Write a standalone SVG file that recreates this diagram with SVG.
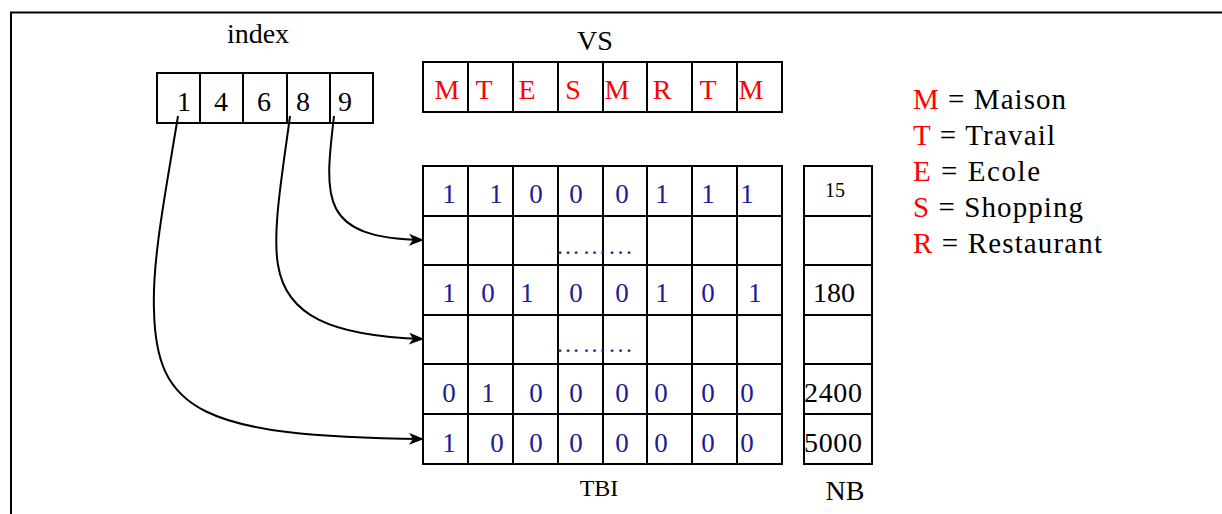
<svg xmlns="http://www.w3.org/2000/svg" width="1222" height="514" viewBox="0 0 1222 514">
<style>
  .cell { fill: #ffffff; stroke: #000000; stroke-width: 2; }
  .t { font-family: "Liberation Serif", "Times New Roman", serif; fill: #000000; }
  .lbl { font-size: 28px; text-anchor: middle; }
  .idx { font-size: 28px; text-anchor: middle; }
  .vs { font-size: 28px; text-anchor: middle; fill: #ff0000; }
  .bit { font-size: 27px; text-anchor: middle; fill: #1c1c96; }
  .dots { font-size: 24px; fill: #1c1c96; }
  .nb { font-size: 28px; }
  .leg { font-size: 29px; }
  .red { fill: #ff0000; }
  .conn { fill: none; stroke: #000000; stroke-width: 2; }
</style>
<defs>
  <marker id="arrow" markerUnits="userSpaceOnUse" markerWidth="16" markerHeight="12" refX="14" refY="6" orient="auto">
    <path d="M0,0 L15,6 L0,12 L4,6 Z" fill="#000000"/>
  </marker>
</defs>
<rect width="1222" height="514" fill="#ffffff"/>
<path d="M11,514 V12.5 H1222" fill="none" stroke="#000000" stroke-width="2"/>

<g id="index-array">
  <text class="t lbl" x="258" y="43">index</text>
  <rect class="cell" x="157" y="73" width="216" height="50"/>
  <line class="cell" x1="200" y1="73" x2="200" y2="123"/>
  <line class="cell" x1="243" y1="73" x2="243" y2="123"/>
  <line class="cell" x1="287" y1="73" x2="287" y2="123"/>
  <line class="cell" x1="330" y1="73" x2="330" y2="123"/>
  <text class="t idx" x="184" y="111">1</text>
  <text class="t idx" x="221" y="111">4</text>
  <text class="t idx" x="264" y="111">6</text>
  <text class="t idx" x="303" y="111">8</text>
  <text class="t idx" x="345" y="111">9</text>
</g>

<g id="vs-array">
  <text class="t lbl" x="595" y="50">VS</text>
  <rect class="cell" x="423" y="62" width="359" height="50"/>
  <line class="cell" x1="468" y1="62" x2="468" y2="112"/>
  <line class="cell" x1="513" y1="62" x2="513" y2="112"/>
  <line class="cell" x1="558" y1="62" x2="558" y2="112"/>
  <line class="cell" x1="603" y1="62" x2="603" y2="112"/>
  <line class="cell" x1="647" y1="62" x2="647" y2="112"/>
  <line class="cell" x1="692" y1="62" x2="692" y2="112"/>
  <line class="cell" x1="737" y1="62" x2="737" y2="112"/>
  <text class="t vs" x="447" y="99">M</text>
  <text class="t vs" x="484" y="99">T</text>
  <text class="t vs" x="527" y="99">E</text>
  <text class="t vs" x="573" y="99">S</text>
  <text class="t vs" x="617" y="99">M</text>
  <text class="t vs" x="662" y="99">R</text>
  <text class="t vs" x="708" y="99">T</text>
  <text class="t vs" x="751" y="99">M</text>
</g>

<g id="tbi-grid">
  <rect class="cell" x="423" y="166" width="359" height="298"/>
  <line class="cell" x1="468" y1="166" x2="468" y2="464"/>
  <line class="cell" x1="513" y1="166" x2="513" y2="464"/>
  <line class="cell" x1="558" y1="166" x2="558" y2="464"/>
  <line class="cell" x1="603" y1="166" x2="603" y2="464"/>
  <line class="cell" x1="647" y1="166" x2="647" y2="464"/>
  <line class="cell" x1="692" y1="166" x2="692" y2="464"/>
  <line class="cell" x1="737" y1="166" x2="737" y2="464"/>
  <line class="cell" x1="423" y1="216" x2="782" y2="216"/>
  <line class="cell" x1="423" y1="265" x2="782" y2="265"/>
  <line class="cell" x1="423" y1="315" x2="782" y2="315"/>
  <line class="cell" x1="423" y1="364" x2="782" y2="364"/>
  <line class="cell" x1="423" y1="414" x2="782" y2="414"/>
  <g class="t bit">
    <text x="449" y="203">1</text><text x="496" y="203">1</text><text x="536" y="203">0</text><text x="576" y="203">0</text><text x="622" y="203">0</text><text x="662" y="203">1</text><text x="708" y="203">1</text><text x="747" y="203">1</text>
    <text x="449" y="302">1</text><text x="488" y="302">0</text><text x="527" y="302">1</text><text x="576" y="302">0</text><text x="622" y="302">0</text><text x="662" y="302">1</text><text x="708" y="302">0</text><text x="755" y="302">1</text>
    <text x="449" y="402">0</text><text x="488" y="402">1</text><text x="536" y="402">0</text><text x="576" y="402">0</text><text x="622" y="402">0</text><text x="661" y="402">0</text><text x="708" y="402">0</text><text x="747" y="402">0</text>
    <text x="449" y="452">1</text><text x="497" y="452">0</text><text x="536" y="452">0</text><text x="576" y="452">0</text><text x="622" y="452">0</text><text x="661" y="452">0</text><text x="708" y="452">0</text><text x="747" y="452">0</text>
  </g>
  <text class="t dots" x="556" y="254" textLength="76" lengthAdjust="spacing">……...</text>
  <text class="t dots" x="556" y="352" textLength="76" lengthAdjust="spacing">……...</text>
  <text class="t lbl" x="599" y="496" style="font-size:24px">TBI</text>
</g>

<g id="nb-column">
  <rect class="cell" x="804" y="166" width="68" height="298"/>
  <line class="cell" x1="804" y1="216" x2="872" y2="216"/>
  <line class="cell" x1="804" y1="265" x2="872" y2="265"/>
  <line class="cell" x1="804" y1="315" x2="872" y2="315"/>
  <line class="cell" x1="804" y1="364" x2="872" y2="364"/>
  <line class="cell" x1="804" y1="414" x2="872" y2="414"/>
  <text class="t" x="835" y="197" text-anchor="middle" style="font-size:20px">15</text>
  <text class="t nb" x="813" y="302" textLength="42">180</text>
  <text class="t nb" x="804" y="402" textLength="58">2400</text>
  <text class="t nb" x="804" y="452" textLength="58">5000</text>
  <text class="t lbl" x="845" y="500">NB</text>
</g>

<g id="legend" class="t leg">
  <text x="913" y="109" textLength="153" lengthAdjust="spacing"><tspan class="red">M</tspan> = Maison</text>
  <text x="913" y="145" textLength="142" lengthAdjust="spacing"><tspan class="red">T</tspan> = Travail</text>
  <text x="913" y="181" textLength="127" lengthAdjust="spacing"><tspan class="red">E</tspan> = Ecole</text>
  <text x="913" y="217" textLength="170" lengthAdjust="spacing"><tspan class="red">S</tspan> = Shopping</text>
  <text x="913" y="253" textLength="189" lengthAdjust="spacing"><tspan class="red">R</tspan> = Restaurant</text>
</g>

<g id="connectors">
  <path class="conn" marker-end="url(#arrow)" d="M334,116 C324,200 320,238 423,240"/>
  <path class="conn" marker-end="url(#arrow)" d="M290,116 C283,170 272,230 278,265 C286,315 330,336 423,339"/>
  <path class="conn" marker-end="url(#arrow)" d="M178,116 C166,190 152,260 154,310 C156,410 200,437 423,439"/>
</g>
</svg>
